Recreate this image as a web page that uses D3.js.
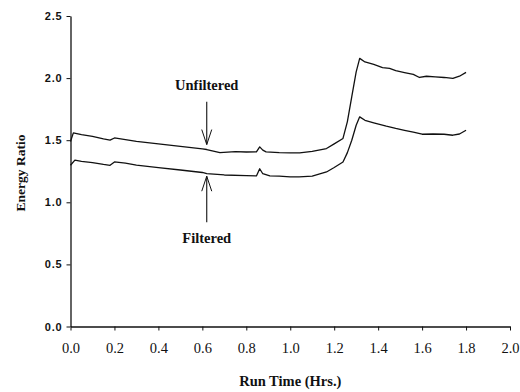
<!DOCTYPE html>
<html><head><meta charset="utf-8">
<script src="https://cdn.jsdelivr.net/npm/d3@7"></script>
<style>body{margin:0;background:#fff}svg{display:block}</style>
</head><body>
<script>
const xTicks = [0,0.2,0.4,0.6,0.8,1.0,1.2,1.4,1.6,1.8,2.0];
const yTicks = [0,0.5,1.0,1.5,2.0,2.5];
const unfilteredX = [0,0.013,0.05,0.1,0.15,0.18,0.2,0.25,0.3,0.4,0.5,0.6,0.62,0.68,0.75,0.8,0.846,0.861,0.875,0.89,0.95,1.0,1.043,1.1,1.165,1.2,1.24,1.26,1.28,1.3,1.316,1.34,1.38,1.42,1.452,1.48,1.52,1.56,1.588,1.62,1.66,1.7,1.74,1.77,1.8];
const unfilteredY = [1.49,1.559,1.545,1.53,1.51,1.5,1.518,1.505,1.49,1.47,1.45,1.43,1.425,1.40,1.408,1.405,1.406,1.446,1.42,1.406,1.40,1.398,1.398,1.41,1.433,1.47,1.514,1.65,1.85,2.05,2.159,2.13,2.11,2.085,2.078,2.06,2.045,2.03,2.005,2.015,2.01,2.005,1.997,2.015,2.046];
const filteredX = [0,0.02,0.05,0.1,0.15,0.18,0.2,0.25,0.3,0.4,0.5,0.6,0.62,0.7,0.8,0.846,0.861,0.875,0.907,0.95,1.0,1.04,1.1,1.165,1.2,1.24,1.26,1.28,1.3,1.316,1.34,1.38,1.437,1.48,1.52,1.56,1.6,1.65,1.7,1.74,1.77,1.8];
const filteredY = [1.298,1.339,1.33,1.32,1.305,1.298,1.325,1.315,1.3,1.28,1.26,1.24,1.231,1.22,1.215,1.212,1.27,1.23,1.212,1.21,1.205,1.204,1.21,1.244,1.28,1.325,1.40,1.50,1.62,1.688,1.66,1.64,1.613,1.595,1.58,1.565,1.548,1.55,1.548,1.54,1.55,1.58];
const annotations = [
  {label:"Unfiltered", x:0.62, textY:1.93, from:1.81, to:1.465},
  {label:"Filtered", x:0.62, textY:0.70, from:0.84, to:1.21}
];

const W=520,H=392;
const svg=d3.select("body").append("svg").attr("width",W).attr("height",H);
const x=d3.scaleLinear().domain([0,2]).range([70.5,510]);
const y=d3.scaleLinear().domain([0,2.5]).range([326.5,16]);

const gx=svg.append("g").attr("transform",`translate(0,${y(0)})`)
  .call(d3.axisBottom(x).tickValues(xTicks).tickFormat(d3.format(".1f")).tickSize(4).tickSizeOuter(0).tickPadding(12));
gx.selectAll("text").attr("font-family","Liberation Serif, serif").attr("font-size",14.5).attr("fill","#111");
const gy=svg.append("g").attr("transform",`translate(${x(0)},0)`)
  .call(d3.axisLeft(y).tickValues(yTicks).tickFormat(d3.format(".1f")).tickSize(4).tickSizeOuter(0).tickPadding(4));
gy.selectAll("text").attr("font-family","Liberation Sans, Arial, sans-serif").attr("font-weight","bold").attr("font-size",11).attr("letter-spacing","0.8px").attr("fill","#111");
svg.selectAll(".domain").attr("stroke","#111").attr("stroke-width",1.3);
svg.selectAll(".tick line").attr("stroke","#111").attr("stroke-width",1);

const line=d3.line().x(d=>x(d[0])).y(d=>y(d[1]));
[[unfilteredX,unfilteredY],[filteredX,filteredY]].forEach(([xs,ys])=>{
  svg.append("path").datum(xs.map((v,i)=>[v,ys[i]])).attr("d",line)
    .attr("fill","none").attr("stroke","#111").attr("stroke-width",1.3).attr("stroke-linejoin","round");
});

annotations.forEach(a=>{
  const px=x(a.x);
  svg.append("text").attr("x",px).attr("y",y(a.textY)).attr("text-anchor","middle").attr("dominant-baseline","middle")
    .attr("font-family","Liberation Serif, serif").attr("font-weight","bold").attr("font-size",14.5).attr("fill","#111").text(a.label);
  const y1=y(a.from), y2=y(a.to), dir=Math.sign(y2-y1);
  svg.append("line").attr("x1",px).attr("x2",px).attr("y1",y1).attr("y2",y2).attr("stroke","#111").attr("stroke-width",1.1);
  svg.append("path").attr("d",`M${px-5},${y2-dir*15}L${px},${y2}L${px+5},${y2-dir*15}`)
    .attr("fill","none").attr("stroke","#111").attr("stroke-width",1);
});

svg.append("text").attr("x",(x(0)+x(2))/2 ).attr("y",383).attr("text-anchor","middle").attr("dominant-baseline","middle")
  .attr("font-family","Liberation Serif, serif").attr("font-weight","bold").attr("font-size",14.5).attr("fill","#111").text("Run Time (Hrs.)");
svg.append("text").attr("transform","translate(22,173) rotate(-90)").attr("text-anchor","middle").attr("dominant-baseline","middle")
  .attr("font-family","Liberation Serif, serif").attr("font-weight","bold").attr("font-size",13.5).attr("fill","#111").text("Energy Ratio");
</script>
</body></html>
